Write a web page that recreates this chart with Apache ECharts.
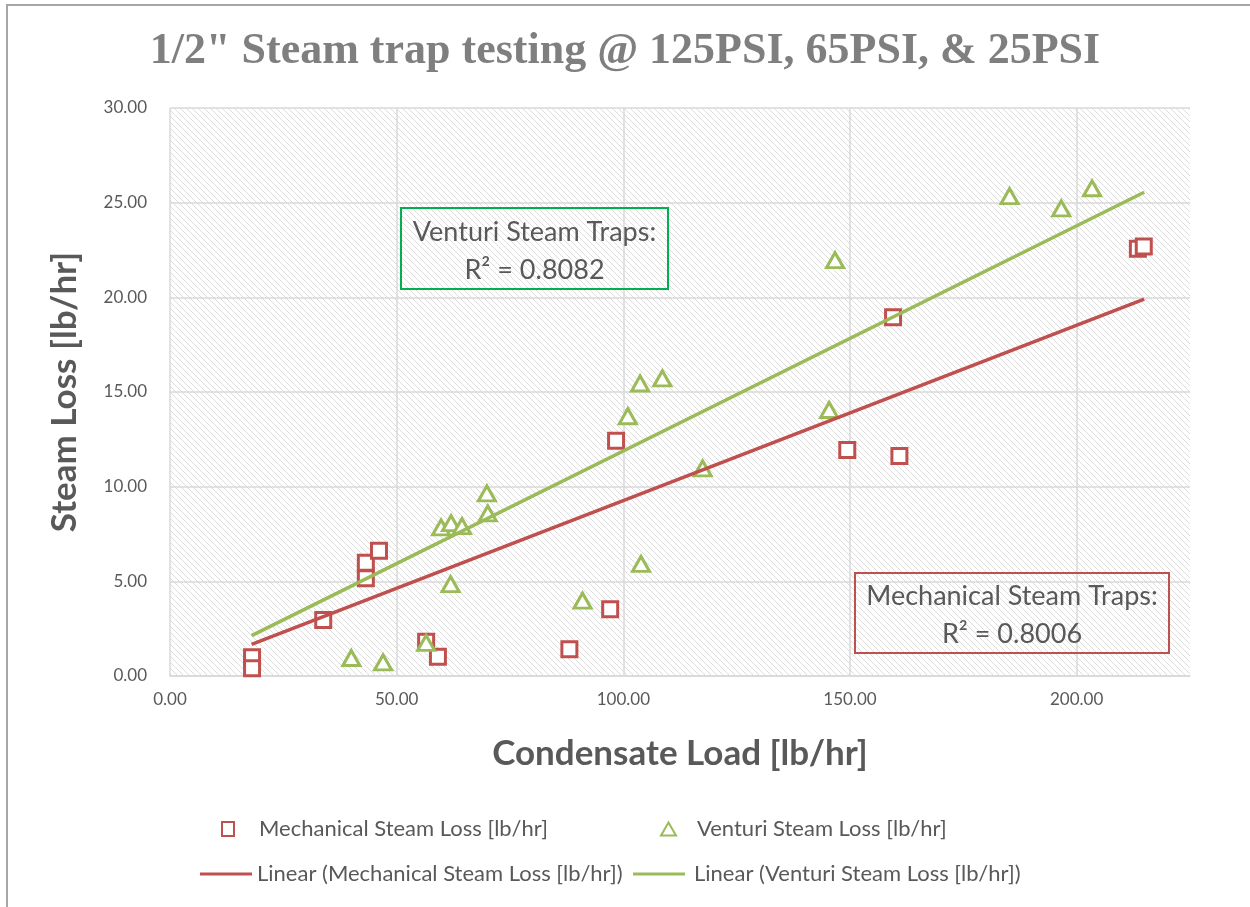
<!DOCTYPE html>
<html><head><meta charset="utf-8">
<script src="https://cdn.jsdelivr.net/npm/echarts@6/dist/echarts.min.js"></script>
<style>html,body{margin:0;padding:0;background:#fff}#c{width:1250px;height:907px}</style>
</head><body><div id="c"></div>
<script>
// ---- data ----
const mechX = [18.1, 18.1, 33.8, 43.2, 43.2, 46.1, 56.5, 59.1, 88.1, 97.1, 98.4, 149.4, 159.5, 160.9, 213.5, 214.8];
const mechY = [0.99, 0.41, 2.96, 5.98, 5.16, 6.62, 1.81, 1.02, 1.41, 3.52, 12.43, 11.94, 18.95, 11.62, 22.57, 22.68];
const ventX = [40.0, 47.0, 56.5, 59.8, 62.0, 64.4, 69.9, 70.1, 61.9, 91.0, 103.9, 101.0, 103.7, 108.6, 117.5, 146.7, 145.4, 185.2, 196.6, 203.4];
const ventY = [0.95, 0.72, 1.75, 7.85, 8.07, 7.92, 9.65, 8.59, 4.85, 3.98, 5.92, 13.72, 15.45, 15.72, 10.97, 21.97, 14.05, 25.35, 24.7, 25.76];
const mechTrendX = [18.0, 214.9];
const mechTrendY = [1.67, 19.9];
const ventTrendX = [18.0, 214.9];
const ventTrendY = [2.13, 25.55];
const seriesNames = ['Mechanical Steam Loss [lb/hr]', 'Venturi Steam Loss [lb/hr]',
  'Linear (Mechanical Steam Loss [lb/hr])', 'Linear (Venturi Steam Loss [lb/hr])'];
const titleText = '1/2" Steam trap testing @ 125PSI, 65PSI, & 25PSI';
const xTitle = 'Condensate Load [lb/hr]';
const yTitle = 'Steam Loss [lb/hr]';
const ventNote = 'Venturi Steam Traps:\nR² = 0.8082';
const mechNote = 'Mechanical Steam Traps:\nR² = 0.8006';

const RED = '#C0504D', GREEN = '#9BBB59', TXT = '#595959';
const zip = (a, b) => a.map((v, i) => [v, b[i]]);

// hatch pattern for plot area
const pc = document.createElement('canvas'); pc.width = 6; pc.height = 6;
const g = pc.getContext('2d');
g.fillStyle = '#fff'; g.fillRect(0, 0, 6, 6);
g.fillStyle = '#DDDDDD';
for (let i = 0; i < 6; i++) g.fillRect(i, i, 1, 1);

const FONT = 'Lato, "Open Sans", sans-serif';
function legendFor(name, left, top, w, h, pad, icon) {
  const l = {
    data: [name], left: left, top: top, padding: 0, itemWidth: w, itemHeight: h,
    selectedMode: false,
    textStyle: { color: TXT, fontSize: 22, fontFamily: FONT, padding: [0, 0, 0, pad] }
  };
  if (icon) l.icon = icon;
  return l;
}

const chart = echarts.init(document.getElementById('c'), null, { renderer: 'canvas' });
chart.setOption({
  backgroundColor: '#fff',
  animation: false,
  title: {
    text: titleText, left: 'center', top: 25,
    textStyle: { fontFamily: '"Liberation Serif", serif', fontWeight: 'bold', fontSize: 44, color: '#7F7F7F' }
  },
  grid: {
    left: 170, right: 60, top: 108, bottom: 231, show: true,
    backgroundColor: { image: pc, repeat: 'repeat' }, borderWidth: 0
  },
  xAxis: {
    type: 'value', min: 0, max: 225, interval: 50,
    name: xTitle, nameLocation: 'middle', nameGap: 60,
    nameTextStyle: { fontFamily: FONT, fontWeight: 'bold', fontSize: 35, color: TXT },
    axisLine: { show: true, lineStyle: { color: '#D9D9D9', width: 1.5 } },
    axisTick: { show: false },
    axisLabel: { margin: 15, color: TXT, fontSize: 17, fontFamily: FONT,
      formatter: v => (v % 50 === 0 ? v.toFixed(2) : '') },
    splitLine: { show: true, showMaxLine: false, lineStyle: { color: '#D9D9D9', width: 1.5 } }
  },
  yAxis: {
    type: 'value', min: 0, max: 30, interval: 5,
    name: yTitle, nameLocation: 'middle', nameGap: 88,
    nameTextStyle: { fontFamily: FONT, fontWeight: 'bold', fontSize: 35, color: TXT },
    axisLine: { show: false }, axisTick: { show: false },
    axisLabel: { margin: 23, color: TXT, fontSize: 17, fontFamily: FONT, formatter: v => v.toFixed(2) },
    splitLine: { show: true, lineStyle: { color: '#D9D9D9', width: 1.5 } }
  },
  legend: [
    legendFor(seriesNames[0], 221, 818, 12, 14, 20),
    legendFor(seriesNames[1], 660, 818, 15, 13, 16),
    legendFor(seriesNames[2], 200, 863, 52, 3, 0, 'rect'),
    legendFor(seriesNames[3], 633, 863, 52, 3, 4, 'rect')
  ],
  series: [
    { name: seriesNames[0], type: 'scatter', data: zip(mechX, mechY), symbol: 'rect', symbolSize: 15, z: 2,
      itemStyle: { color: '#fff', borderColor: RED, borderWidth: 3, opacity: 1 } },
    { name: seriesNames[1], type: 'scatter', data: zip(ventX, ventY), symbol: 'triangle', symbolSize: [17, 15], z: 2,
      itemStyle: { color: '#fff', borderColor: GREEN, borderWidth: 3, opacity: 1 } },
    { name: seriesNames[2], type: 'line', data: zip(mechTrendX, mechTrendY), symbol: 'none', z: 3,
      lineStyle: { color: RED, width: 3.5 }, itemStyle: { color: RED } },
    { name: seriesNames[3], type: 'line', data: zip(ventTrendX, ventTrendY), symbol: 'none', z: 3,
      lineStyle: { color: GREEN, width: 3.5 }, itemStyle: { color: GREEN } }
  ],
  graphic: [
    { type: 'rect', z: -10, silent: true, shape: { x: 7, y: 5, width: 1400, height: 1100 },
      style: { fill: 'none', stroke: '#A6A6A6', lineWidth: 2 } },
    { type: 'rect', z: 10, shape: { x: 401, y: 208, width: 267, height: 81 },
      style: { fill: 'none', stroke: '#00B050', lineWidth: 2 } },
    { type: 'text', z: 10, x: 534.5, y: 251,
      style: { text: ventNote, fill: TXT, fontSize: 27, fontFamily: FONT, align: 'center', verticalAlign: 'middle',
        textAlign: 'center', textVerticalAlign: 'middle', lineHeight: 38 } },
    { type: 'rect', z: 10, shape: { x: 855, y: 573, width: 314, height: 80 },
      style: { fill: 'none', stroke: RED, lineWidth: 2 } },
    { type: 'text', z: 10, x: 1012, y: 615,
      style: { text: mechNote, fill: TXT, fontSize: 27, fontFamily: FONT, align: 'center', verticalAlign: 'middle',
        textAlign: 'center', textVerticalAlign: 'middle', lineHeight: 38 } }
  ]
});
</script></body></html>
